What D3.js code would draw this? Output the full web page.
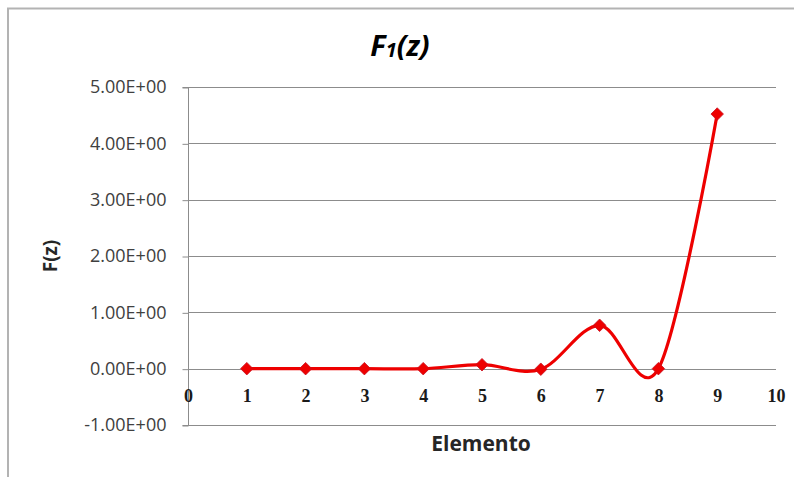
<!DOCTYPE html>
<html>
<head>
<meta charset="utf-8">
<script src="https://cdn.jsdelivr.net/npm/d3@7"></script>
<style>
  html, body { margin: 0; padding: 0; background: #fff; }
  svg { display: block; }
</style>
</head>
<body>
<svg id="chart" width="795" height="477"></svg>
<script>
// Elemento (x) and F(z) (y) values of the series
const elementos = [1, 2, 3, 4, 5, 6, 7, 8, 9];
const fz = [0.0, 0.0, 0.0, 0.0, 0.07, -0.01, 0.77, 0.0, 4.52];
const yTicks = [-1, 0, 1, 2, 3, 4, 5];
const xTicks = [0, 1, 2, 3, 4, 5, 6, 7, 8, 9, 10];

const svg = d3.select("#chart");
const plot = { left: 188, right: 776, top: 87, bottom: 425 };

const x = d3.scaleLinear().domain([0, 10]).range([plot.left, plot.right]);
const y = d3.scaleLinear().domain([-1, 5]).range([plot.bottom, plot.top]);

// chart frame (top and left edges)
svg.append("path")
  .attr("d", `M8,477 L8,8.5 L794,8.5`)
  .attr("fill", "none")
  .attr("stroke", "#b3b3b3")
  .attr("stroke-width", 2);

// horizontal gridlines
svg.append("g")
  .selectAll("line")
  .data(yTicks)
  .join("line")
  .attr("x1", plot.left).attr("x2", plot.right)
  .attr("y1", d => Math.round(y(d)) + 0.5).attr("y2", d => Math.round(y(d)) + 0.5)
  .attr("stroke", "#8c8c8c").attr("stroke-width", 1);

// y axis
const yAxis = d3.axisLeft(y)
  .tickValues(yTicks)
  .tickSize(6)
  .tickPadding(16)
  .tickFormat(d => (d < 0 ? "-" : "") + Math.abs(d).toFixed(2) + "E+00");
const gy = svg.append("g")
  .attr("transform", `translate(${plot.left + 0.5},0)`)
  .call(yAxis);
gy.select(".domain").attr("stroke", "#8c8c8c").attr("d", `M-6,${Math.round(y(5)) + 0.5}H0V${Math.round(y(-1)) + 0.5}H-6`);
gy.selectAll(".tick line").attr("stroke", "#8c8c8c").attr("transform", "translate(0,0.5)");
gy.selectAll(".tick text")
  .attr("fill", "#404040")
  .style("font-family", "'Open Sans', 'Noto Sans', sans-serif")
  .style("font-size", "18px");

// x tick labels sit below the zero line
const xAxis = d3.axisBottom(x).tickValues(xTicks).tickSize(0).tickPadding(0).tickFormat(d3.format("d"));
const gx = svg.append("g")
  .attr("transform", `translate(0,${y(0) + 29})`)
  .call(xAxis);
gx.select(".domain").remove();
gx.selectAll(".tick text")
  .attr("fill", "#1a1a1a")
  .attr("dy", "0")
  .attr("y", 0)
  .attr("dominant-baseline", "middle")
  .style("font-family", "'Liberation Serif', 'DejaVu Serif', serif")
  .style("font-weight", "bold")
  .style("font-size", "18px");

// smoothed series line
const line = d3.line()
  .x((d, i) => x(elementos[i]))
  .y(d => y(d))
  .curve(d3.curveCatmullRom.alpha(0));
svg.append("path")
  .datum(fz)
  .attr("d", line)
  .attr("fill", "none")
  .attr("stroke", "#ee0000")
  .attr("stroke-width", 3.2);

// diamond markers
svg.append("g")
  .selectAll("path")
  .data(fz)
  .join("path")
  .attr("d", d3.symbol().type(d3.symbolDiamond2).size(100))
  .attr("transform", (d, i) => `translate(${x(elementos[i])},${y(d)})`)
  .attr("fill", "#ee0000")
  .attr("stroke", "#c81020")
  .attr("stroke-width", 0.8);

// title F1(z)
const title = svg.append("text")
  .attr("x", 400).attr("y", 56)
  .attr("text-anchor", "middle")
  .attr("fill", "#000")
  .style("font-family", "'Open Sans', 'Noto Sans', sans-serif")
  .style("font-weight", "bold")
  .style("font-style", "italic")
  .style("font-size", "29px");
title.append("tspan").text("F");
title.append("tspan").attr("font-size", "20px").attr("dy", 1).text("1");
title.append("tspan").attr("dy", -1).text("(z)");

// axis titles
svg.append("text")
  .attr("transform", "translate(57,256) rotate(-90)")
  .attr("text-anchor", "middle")
  .attr("fill", "#262626")
  .style("font-family", "'Open Sans', 'Noto Sans', sans-serif")
  .style("font-weight", "bold")
  .style("font-size", "19px")
  .text("F(z)");

svg.append("text")
  .attr("x", 481).attr("y", 451)
  .attr("text-anchor", "middle")
  .attr("fill", "#262626")
  .style("font-family", "'Open Sans', 'Noto Sans', sans-serif")
  .style("font-weight", "bold")
  .style("font-size", "21px")
  .text("Elemento");
</script>
</body>
</html>
